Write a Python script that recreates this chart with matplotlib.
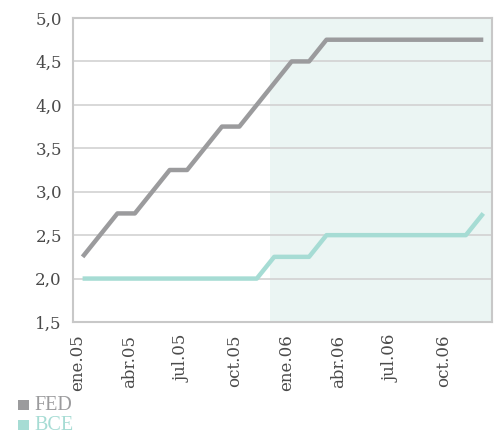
import matplotlib
matplotlib.use('Agg')
import matplotlib.pyplot as plt
import matplotlib.transforms as mtransforms
from matplotlib.patches import Rectangle

months = ['ene.05', 'feb.05', 'mar.05', 'abr.05', 'may.05', 'jun.05',
          'jul.05', 'ago.05', 'sep.05', 'oct.05', 'nov.05', 'dic.05',
          'ene.06', 'feb.06', 'mar.06', 'abr.06', 'may.06', 'jun.06',
          'jul.06', 'ago.06', 'sep.06', 'oct.06', 'nov.06', 'dic.06']
fed = [2.25, 2.5, 2.75, 2.75, 3.0, 3.25, 3.25, 3.5, 3.75, 3.75, 4.0, 4.25,
       4.5, 4.5, 4.75, 4.75, 4.75, 4.75, 4.75, 4.75, 4.75, 4.75, 4.75, 4.75]
bce = [2.0, 2.0, 2.0, 2.0, 2.0, 2.0, 2.0, 2.0, 2.0, 2.0, 2.0, 2.25,
       2.25, 2.25, 2.5, 2.5, 2.5, 2.5, 2.5, 2.5, 2.5, 2.5, 2.5, 2.75]
series_names = ['FED', 'BCE']
yticks = [1.5, 2.0, 2.5, 3.0, 3.5, 4.0, 4.5, 5.0]
ytick_labels = ['1,5', '2,0', '2,5', '3,0', '3,5', '4,0', '4,5', '5,0']
tick_idx = [0, 3, 6, 9, 12, 15, 18, 21]
shade_start = 10.75

C_FED = '#9b9b9d'
C_BCE = '#a6dcd4'
C_SHADE = '#ebf5f3'
C_GRID = '#d2d2d2'
C_TEXT = '#4a4a4a'

fig = plt.figure(figsize=(4.96, 4.33), dpi=100)
ax = fig.add_axes([73/496, 1-322/433, (492-73)/496, (322-18)/433])

x = list(range(len(months)))
ax.set_xlim(-0.55, len(months) - 0.5)
ax.set_ylim(1.5, 5.0)
ax.axvspan(shade_start, len(months) - 0.5, color=C_SHADE, zorder=0, lw=0)

for y in yticks:
    ax.axhline(y, color=C_GRID, lw=1.2, zorder=1)

ax.plot(x, fed, color=C_FED, lw=3.2, zorder=3, solid_capstyle='butt')
ax.plot(x, bce, color=C_BCE, lw=3.2, zorder=3, solid_capstyle='butt')

ax.set_yticks(yticks)
ax.set_yticklabels(ytick_labels, family='DejaVu Serif', fontsize=12, color=C_TEXT)
ax.set_xticks(tick_idx)
ax.set_xticklabels([months[i] for i in tick_idx], rotation=90,
                   family='DejaVu Serif', fontsize=12, color=C_TEXT, va='top')
ax.tick_params(axis='both', length=0)
ax.tick_params(axis='x', pad=9)
ax.tick_params(axis='y', pad=8)
off = mtransforms.ScaledTranslation(-0.05, 0, fig.dpi_scale_trans)
for lbl in ax.get_xticklabels():
    lbl.set_transform(lbl.get_transform() + off)

for s in ax.spines.values():
    s.set_color('#c8c8c8')
    s.set_linewidth(1.5)

# legend
leg_colors = [C_FED, C_BCE]
leg_y = [405, 425]
for name, col, yy in zip(series_names, leg_colors, leg_y):
    fig.patches.append(Rectangle((18/496, 1-(yy+5)/433), 11/496, 10/433,
                                 transform=fig.transFigure, color=col, lw=0))
    fig.text(34/496, 1-yy/433, name, color=col, family='Liberation Serif',
             fontsize=14.5, va='center', ha='left')

fig.savefig('out.png', dpi=100)
